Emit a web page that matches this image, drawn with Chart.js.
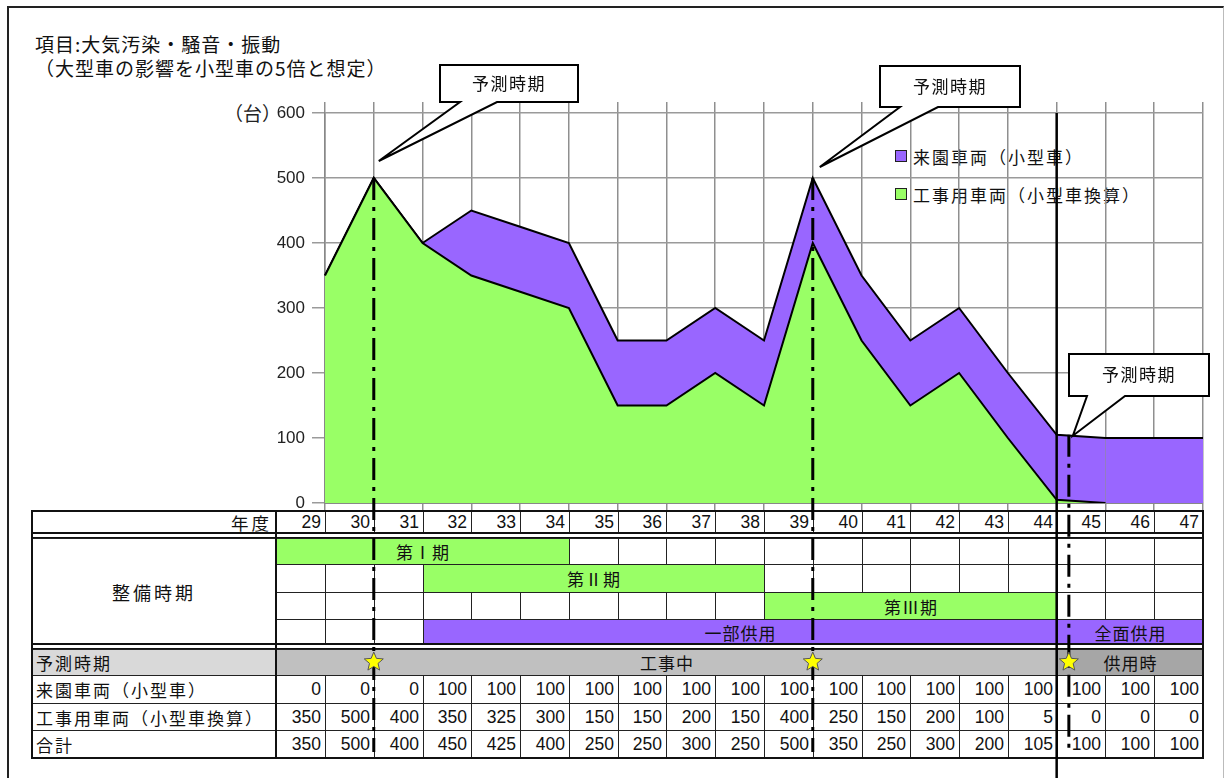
<!DOCTYPE html>
<html lang="ja">
<head>
<meta charset="utf-8">
<script src="https://cdn.jsdelivr.net/npm/chart.js@4.4.1/dist/chart.umd.min.js"></script>
<style>
  body { margin: 0; background: #fff; font-family: "Noto Sans CJK JP", sans-serif; color: #111; }
  #page { position: relative; width: 1225px; height: 778px; overflow: hidden; }
  #frame { position: absolute; left: 7px; top: 6px; width: 1214px; height: 800px;
           border-left: 2px solid #222; border-top: 2px solid #222; border-right: 1px solid #bbb; }
  .title { position: absolute; left: 35px; font-size: 19px; letter-spacing: 1px; line-height: 24px; white-space: nowrap; }
  #unidade { position: absolute; left: 224px; top: 100px; font-size: 19px; line-height: 26px; color: #222; }
  .lg { position: absolute; left: 895px; font-size: 17px; letter-spacing: 2px; white-space: nowrap;
        display: flex; align-items: center; height: 22px; }
  .lg span { display: inline-block; width: 10px; height: 10px; border: 1.5px solid #222; margin-right: 6px; }
  #tbl { position: absolute; left: 0; top: 0; z-index: 1; }
  .c { position: absolute; box-sizing: border-box; border: 1px solid #222; display: flex; align-items: center;
       font-size: 17px; white-space: nowrap; overflow: hidden; background: #fff; }
  .num { font-family: "Liberation Sans", Arial, sans-serif; font-size: 17.5px; justify-content: flex-end; padding-right: 4px; }
  .lbl { padding-left: 4px; letter-spacing: 2px; }
  .mid { justify-content: center; letter-spacing: 1px; }
  canvas { position: absolute; left: 0; top: 0; z-index: 2; pointer-events: none; }
</style>
</head>
<body>
<div id="page">
  <div id="frame"></div>
  <div class="title" style="top:32px">項目:大気汚染・騒音・振動</div>
  <div class="title" style="top:56px">（大型車の影響を小型車の5倍と想定）</div>
  <div id="unidade">（台）</div>
  <div id="legend"></div>
  <div id="tbl"></div>
  <canvas id="grafico" width="1225" height="778"></canvas>
</div>
<script>
// dados do gráfico
const years = ['29','30','31','32','33','34','35','36','37','38','39','40','41','42','43','44','45','46','47'];
const raienValues = [0,0,0,100,100,100,100,100,100,100,100,100,100,100,100,100,100,100,100];
const kojiValues = [350,500,400,350,325,300,150,150,200,150,400,250,150,200,100,5,0,0,0];
const totalValues = [350,500,400,450,425,400,250,250,300,250,500,350,250,300,200,105,100,100,100];
const yTicks = [0,100,200,300,400,500,600];

// 整備時期 (linha, início, fim)
const seibiPhases = [
  { row: 0, label: '第Ⅰ期', from: '29', to: '34', kind: 'green' },
  { row: 1, label: '第Ⅱ期', from: '32', to: '38', kind: 'green' },
  { row: 2, label: '第Ⅲ期', from: '39', to: '44', kind: 'green' },
  { row: 3, label: '一部供用', from: '32', to: '44', kind: 'purple' },
  { row: 3, label: '全面供用', from: '45', to: '47', kind: 'purple' }
];
const yosokuSpans = [
  { label: '工事中', from: '29', to: '44', kind: 'light' },
  { label: '供用時', from: '45', to: '47', kind: 'dark' }
];
// posição dos 予測時期 no eixo de categorias (índice)
const predictionAt = [1, 10, 15.25];
const calloutText = '予測時期';

const GREEN = '#99ff66';
const PURPLE = '#9966ff';
const fills = { green: GREEN, purple: PURPLE, light: '#c0c0c0', dark: '#a6a6a6' };

// caixas dos balões (layout)
const callouts = [
  { box: [440, 65, 138, 37], base: [20, 57], dx: 5, dy: -17 },
  { box: [880, 66, 140, 41], base: [20, 58], dx: 7, dy: -11 },
  { box: [1069, 354, 140, 42], base: [18, 56], dx: 4, dy: 1 }
];

function desenharEstrela(ctx, cx, cy, r1, r2) {
  ctx.beginPath();
  for (let i = 0; i < 10; i++) {
    const r = i % 2 === 0 ? r1 : r2;
    const a = -Math.PI / 2 + i * Math.PI / 5;
    ctx.lineTo(cx + r * Math.cos(a), cy + r * Math.sin(a));
  }
  ctx.closePath();
  ctx.fillStyle = '#ffff00';
  ctx.fill();
  ctx.strokeStyle = '#555';
  ctx.lineWidth = 1;
  ctx.stroke();
}

const overlay = {
  id: 'overlay',
  afterDraw(chart) {
    const ctx = chart.ctx;
    const xs = chart.scales.x, ys = chart.scales.y;
    ctx.save();
    // linha sólida no fim da obra
    const xSolid = xs.getPixelForValue(15);
    ctx.strokeStyle = '#000';
    ctx.lineWidth = 2.5;
    ctx.beginPath();
    ctx.moveTo(xSolid, chart.chartArea.top);
    ctx.lineTo(xSolid, 778);
    ctx.stroke();

    predictionAt.forEach((p, k) => {
      const px = xs.getPixelForValue(p);
      const py = ys.getPixelForValue(totalValues[Math.floor(p)]);
      // linha traço-ponto
      ctx.save();
      ctx.setLineDash([22, 7, 4, 7]);
      ctx.lineWidth = 3;
      ctx.strokeStyle = '#000';
      ctx.beginPath();
      ctx.moveTo(px, py);
      ctx.lineTo(px, 752);
      ctx.stroke();
      ctx.restore();
      desenharEstrela(ctx, px, 662, 10, 4.5);

      // balão
      const c = callouts[k];
      const [bx, by, bw, bh] = c.box;
      const tx = px + c.dx, ty = py + c.dy;
      ctx.beginPath();
      ctx.moveTo(bx, by);
      ctx.lineTo(bx + bw, by);
      ctx.lineTo(bx + bw, by + bh);
      ctx.lineTo(bx + c.base[1], by + bh);
      ctx.lineTo(tx, ty);
      ctx.lineTo(bx + c.base[0], by + bh);
      ctx.lineTo(bx, by + bh);
      ctx.closePath();
      ctx.fillStyle = '#fff';
      ctx.fill();
      ctx.lineWidth = 2;
      ctx.lineJoin = 'miter';
      ctx.strokeStyle = '#000';
      ctx.stroke();
      ctx.fillStyle = '#111';
      ctx.font = '17px "Noto Sans CJK JP"';
      ctx.letterSpacing = '1.5px';
      ctx.textAlign = 'center';
      ctx.textBaseline = 'middle';
      ctx.fillText(calloutText, bx + bw / 2, by + bh / 2);
    });
    ctx.restore();
  }
};

const chart = new Chart(document.getElementById('grafico'), {
  type: 'line',
  data: {
    labels: years,
    datasets: [
      {
        label: '工事用車両（小型車換算）', data: kojiValues,
        backgroundColor: GREEN, borderColor: '#000', borderWidth: 2,
        fill: 'origin', pointRadius: 0, tension: 0,
        segment: { borderColor: c => (c.p0.parsed.y === 0 && c.p1.parsed.y === 0) ? 'rgba(0,0,0,0)' : undefined }
      },
      {
        label: '来園車両（小型車）', data: raienValues,
        backgroundColor: PURPLE, borderColor: '#000', borderWidth: 2,
        fill: '-1', pointRadius: 0, tension: 0
      }
    ]
  },
  options: {
    responsive: false,
    animation: false,
    devicePixelRatio: 1,
    layout: { padding: { left: 0, right: 22, top: 102, bottom: 268 } },
    plugins: { legend: { display: false }, tooltip: { enabled: false } },
    scales: {
      x: {
        type: 'category', offset: false,
        grid: { color: '#8f8f8f', lineWidth: 1.5, tickLength: 7 },
        ticks: { display: false },
        border: { color: '#888', width: 2 },
        afterFit(s) { s.height = 7; }
      },
      x2: {
        type: 'category', position: 'top', offset: false,
        grid: { color: '#8f8f8f', lineWidth: 1.5, tickLength: 11, drawOnChartArea: false },
        ticks: { display: false },
        border: { display: false },
        afterFit(s) { s.height = 11; }
      },
      y: {
        stacked: true, min: 0, max: 600,
        afterBuildTicks(s) { s.ticks = yTicks.map(v => ({ value: v })); },
        ticks: {
          padding: 7, color: '#222',
          font: { family: '"Liberation Sans", Arial, sans-serif', size: 17 },
          callback: v => String(v)
        },
        grid: { color: '#9a9a9a', lineWidth: 1.5, tickLength: 13 },
        border: { color: '#888', width: 1.5 },
        afterFit(s) { s.width = 325; }
      }
    }
  },
  plugins: [overlay]
});

// legenda
function montarLegenda() {
  const el = document.getElementById('legend');
  chart.data.datasets.slice().reverse().forEach((ds, i) => {
    const d = document.createElement('div');
    d.className = 'lg';
    d.style.top = (145 + i * 38) + 'px';
    d.innerHTML = '<span style="background:' + ds.backgroundColor + '"></span>' + ds.label;
    el.appendChild(d);
  });
}

// tabela abaixo do gráfico
function montarTabela() {
  const tbl = document.getElementById('tbl');
  const xs = chart.scales.x;
  const step = xs.getPixelForValue(1) - xs.getPixelForValue(0);
  const colL = i => xs.getPixelForValue(i) - step;
  const left = 31, headR = colL(0), right = xs.getPixelForValue(years.length - 1);

  function cell(x, y, w, h, text, cls, bg) {
    const d = document.createElement('div');
    d.className = 'c ' + (cls || '');
    d.style.left = Math.round(x) + 'px';
    d.style.top = y + 'px';
    d.style.width = (Math.round(x + w) - Math.round(x) + 1) + 'px';
    d.style.height = (h + 1) + 'px';
    if (bg) d.style.background = bg;
    d.textContent = text;
    tbl.appendChild(d);
    return d;
  }
  function linha(x, y, w, h) {
    const d = document.createElement('div');
    d.style.cssText = 'position:absolute;background:#111;left:' + x + 'px;top:' + y + 'px;width:' + w + 'px;height:' + h + 'px';
    tbl.appendChild(d);
  }
  const idx = y => years.indexOf(y);

  // 年度
  const hd = cell(left, 510, headR - left, 23, '年度', 'num');
  hd.style.letterSpacing = '3px';
  hd.style.fontFamily = '"Noto Sans CJK JP"';
  years.forEach((y, i) => cell(colL(i), 510, step, 23, y, 'num'));

  // 整備時期
  const seibiRows = [[538, 26], [564, 28], [592, 27], [619, 25]];
  const hs = cell(left, 538, headR - left, 106, '整備時期', 'mid');
  hs.style.letterSpacing = '3px';
  hs.style.fontSize = '18px';
  seibiRows.forEach(([y, h], r) => {
    const spans = seibiPhases.filter(p => p.row === r);
    years.forEach((yr, i) => {
      if (!spans.some(p => i >= idx(p.from) && i <= idx(p.to))) cell(colL(i), y, step, h, '', '');
    });
    spans.forEach(p => {
      const a = idx(p.from), b = idx(p.to);
      cell(colL(a), y, colL(b) + step - colL(a), h, p.label, 'mid', fills[p.kind]);
    });
  });

  // 予測時期
  cell(left, 649, headR - left, 26, '予測時期', 'lbl', '#d9d9d9');
  yosokuSpans.forEach(s => {
    const a = idx(s.from), b = idx(s.to);
    cell(colL(a), 649, colL(b) + step - colL(a), 26, s.label, 'mid', fills[s.kind]);
  });

  // valores
  const linhas = [
    ['来園車両（小型車）', raienValues, 675, 28],
    ['工事用車両（小型車換算）', kojiValues, 703, 27],
    ['合計', totalValues, 730, 28]
  ];
  linhas.forEach(([nome, vals, y, h]) => {
    cell(left, y, headR - left, h, nome, 'lbl');
    vals.forEach((v, i) => cell(colL(i), y, step, h, String(v), 'num'));
  });

  // bordas grossas
  linha(left, 510, right - left, 2);
  linha(left, 532, right - left, 2);
  linha(left, 537, right - left, 1);
  linha(left, 643, right - left, 2);
  linha(left, 648, right - left, 1);
  linha(left, 757, right - left, 2);
  linha(left, 510, 2, 249);
  linha(Math.round(headR) - 1, 510, 2, 249);
  linha(Math.round(right) - 1, 510, 2, 249);
}

montarLegenda();
montarTabela();
</script>
</body>
</html>
